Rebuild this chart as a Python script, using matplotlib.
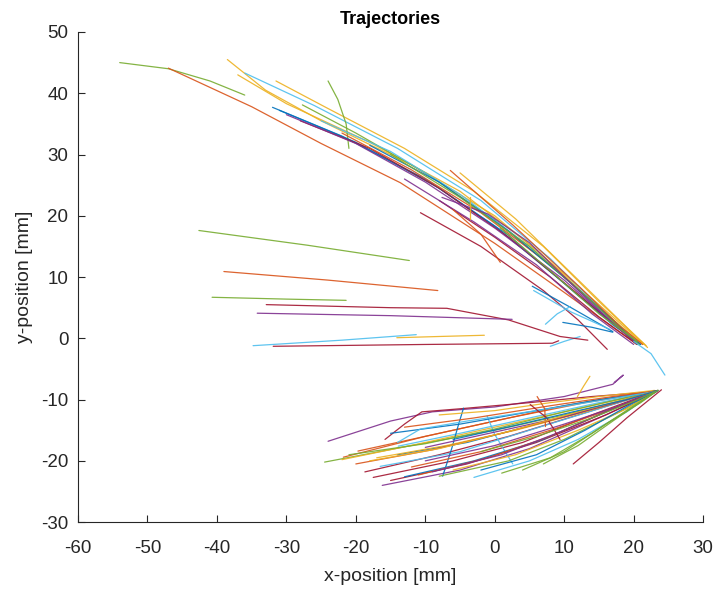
import matplotlib
matplotlib.use("Agg")
import matplotlib.pyplot as plt

plt.rcParams['font.family'] = ['Liberation Sans', 'DejaVu Sans']
plt.rcParams['axes.unicode_minus'] = False

# MATLAB default line colour order
palette = ['#0072BD', '#D95319', '#EDB120', '#7E2F8E', '#77AC30', '#4DBEEE', '#A2142F']

# Upper-left approach trajectories (x, y in mm)
upper_paths = [
    [(-54, 45), (-47, 44), (-41, 42), (-36, 39.7)],
    [(-47, 44.1), (-35, 37.8), (-25, 31.8), (-13.6, 25.4), (0, 15.5), (10, 7.5), (17, 1.8), (20.5, -1)],
    [(-38.5, 45.5), (-33, 40.5), (-25, 35.5), (-12, 28.3), (0, 20), (10, 10.5), (17, 3.5), (21.5, -1)],
    [(-37, 43), (-30, 38.3), (-18, 32), (-5, 24), (6, 14.5), (15, 5), (21.3, -1)],
    [(-36, 43.3), (-26, 38), (-14, 31), (-2, 22.5), (8, 13), (16, 4), (21, -1)],
    [(-31.5, 42), (-24, 37.5), (-13, 31), (-3, 24), (7, 15), (15, 6), (21.8, -1.2)],
    [(-24, 42), (-22.6, 39), (-21.4, 35), (-21, 31)],
    [(-32, 37.7), (-22, 33), (-10, 26), (0, 18.3), (10, 9), (17, 2.2), (21, -1)],
    [(-31, 37.2), (-20, 32), (-8, 24.5), (2, 16.8), (12, 7), (21, -1)],
    [(-27.7, 38.1), (-20, 33.5), (-10, 27), (0, 19.3), (11, 9), (17, 3), (20.8, -1)],
    [(-28, 35.5), (-18, 31), (-8, 24.5), (2, 16.5), (12, 7.2), (18, 1.5), (20.5, -1)],
    [(-30, 36.5), (-20, 31.8), (-10, 25.5), (0, 18), (10, 9.5), (17, 2.5), (20.5, -1)],
    [(-25, 35.5), (-15, 30.5), (-5, 23.5), (5, 15), (13, 7), (20.5, -1)],
    [(-22, 33.5), (-12, 27.5), (-2, 20.5), (8, 12), (16, 4), (20.5, -1)],
    [(-18, 31.5), (-8, 25.5), (2, 17.5), (11, 9), (17, 3), (20.5, -1)],
    [(-15, 30), (-5, 23), (5, 15), (14, 6), (20.5, -1)],
    [(-8, 22.5), (0, 16.5), (8, 10), (15, 3.5), (20.5, -1)],
    [(-13, 26), (-3, 19), (6, 12), (14, 4), (20, -1)],
    [(-7.6, 23), (-1, 20.3), (5, 15.6), (12.3, 7.5), (17, 2.5), (20, -0.4)],
    [(-6.4, 27.4), (2.6, 18.5), (12.3, 8.3), (18, 2), (21.3, -1)],
    [(-5, 27), (3, 19.5), (12.5, 9), (19, 1.8), (22, -1.5)],
    [(-10.7, 20.5), (-2, 15), (7, 7.8), (12, 3), (16.2, -1.8)],
    [(-3.5, 23), (-3.5, 19.5)],
    [(-6, 21), (-2, 17), (0.8, 12.4)],
    [(0.8, 18), (8, 11), (15, 4), (20.5, -0.5)],
    [(5.4, 8.5), (11, 5), (17, 1.1)],
    [(5.6, 7.8), (11, 4.3), (16.5, 1.5)],
    [(7.3, 2.3), (9, 4), (10.9, 5.2)],
    [(9.8, 2.6), (14, 1.8), (17, 1.0)],
    [(8, -1.3), (10, -0.5), (12.3, 0.3)],
    [(20, -0.5), (22.5, -2.5), (24.5, -6)],
]
upper_colors = [4, 1, 2, 2, 5, 2, 4, 0, 0, 4, 6, 3, 5, 1, 0, 4, 6, 3, 3, 1, 2, 6, 2, 1, 4, 0, 5, 5, 0, 5, 5]

# Near-horizontal trajectories from the left
side_paths = [
    [(-42.6, 17.6), (-27, 15.2), (-12.3, 12.7)],
    [(-39, 10.9), (-24, 9.5), (-8.2, 7.8)],
    [(-40.7, 6.7), (-30, 6.4), (-21.4, 6.2)],
    [(-32.9, 5.5), (-15, 5.0), (-6.9, 4.9), (2, 3.0), (9.4, 0.3), (13.4, -0.3)],
    [(-34.2, 4.1), (-15, 3.7), (2.5, 3.1)],
    [(-34.8, -1.2), (-22, -0.3), (-11.3, 0.6)],
    [(-14.1, 0.1), (-8, 0.3), (-1.5, 0.5)],
    [(-31.9, -1.3), (-10, -1.0), (8.3, -0.8), (9.2, -0.4)],
]
side_colors = [4, 1, 4, 6, 3, 5, 2, 6]

# Lower approach trajectories converging near (23.5, -8.5)
lower_paths = [
    [(-24, -16.8), (-15, -13.5), (-9, -12), (0, -11.2), (10, -9.5), (17, -7.5), (18.5, -6), (17.2, -7.2)],
    [(-15.8, -16.5), (-13, -14), (-10.5, -12), (-5, -11.5), (5, -10.5), (14, -9.5), (22, -8.8)],
    [(-21.8, -19.4), (-10, -16), (0, -13.5), (10, -11), (18, -9.5), (23.5, -8.5)],
    [(-24.5, -20.2), (-12, -17.5), (0, -15), (10, -12.5), (17, -10.5), (23.5, -8.5)],
    [(-22, -19.8), (-10, -17), (0, -14.5), (12, -11.5), (23, -8.7)],
    [(-19.7, -18.4), (-8, -15.5), (2, -13), (13, -10.5), (23, -8.7)],
    [(-18.7, -21.8), (-8, -19), (2, -16), (12, -12.5), (23, -8.7)],
    [(-16.5, -20.9), (-5, -18.5), (5, -15), (15, -11.5), (23, -8.7)],
    [(-17.5, -22.7), (-6, -20), (4, -17), (14, -12.5), (23, -8.7)],
    [(-16.2, -24), (-5, -21.5), (5, -18), (15, -13), (23.3, -8.7)],
    [(-13.9, -17.6), (-5, -15.5), (5, -13), (15, -10.5), (23, -8.7)],
    [(-4.5, -11.4), (-5.2, -14), (-6.2, -18), (-7.5, -22.5)],
    [(-1.1, -12.7), (0, -15.7), (1.5, -18.5), (2.6, -20.5)],
    [(-8, -12.5), (0, -11.8), (8, -10.5), (15, -9.5), (23, -8.5)],
    [(-21, -19), (-10, -17.2), (0, -14.8), (10, -12), (23, -8.6)],
    [(-14, -19), (-4, -17), (6, -14), (16, -11), (23, -8.6)],
    [(-12, -21), (-2, -18.5), (8, -15), (17, -11.5), (23.3, -8.6)],
    [(-10, -20), (0, -17.5), (10, -14), (18, -11), (23.3, -8.6)],
    [(-8, -22.5), (2, -20), (10, -16.5), (18, -12), (23.3, -8.6)],
    [(-6, -21.5), (3, -19), (12, -15), (19, -11.5), (23.3, -8.6)],
    [(-3, -22.7), (5, -20), (12, -16.5), (19, -12), (23.3, -8.6)],
    [(4, -21.5), (10, -18.5), (16, -14), (21, -10.5), (23.5, -8.5)],
    [(7, -20.5), (12, -17.5), (17, -13.5), (23.3, -8.6)],
    [(11.3, -20.5), (15, -17), (19, -13), (22.7, -9.6), (24, -8.4)],
    [(-15, -15.5), (-5, -14), (5, -12), (15, -10), (23, -8.7)],
    [(-13, -14.5), (-3, -13), (8, -11), (17, -9.5), (23.3, -8.6)],
    [(-14, -17), (-10.7, -14.8), (-4, -13.5), (6, -11.8), (16, -10), (23, -8.7)],
    [(-15, -23.2), (-4, -20.5), (6, -17), (16, -12.5), (23.3, -8.6)],
    [(-13, -22.6), (-3, -20), (7, -16.5), (16, -12), (23.3, -8.6)],
    [(-11, -22.3), (-1, -19.5), (8, -16), (17, -11.5), (23.3, -8.6)],
    [(-9, -21.8), (1, -19), (10, -15), (18, -11), (23.3, -8.6)],
    [(-17, -19.5), (-7, -17.5), (3, -15), (13, -12), (23, -8.7)],
    [(-20, -20.5), (-9, -18.2), (1, -15.5), (11, -12.5), (23, -8.7)],
    [(13.7, -6.2), (12.8, -7.8), (11.9, -9.5)],
    [(6.1, -9.5), (7.2, -11.5), (7.3, -14.4)],
    [(5.1, -10.8), (7.5, -13), (9.4, -16.5)],
    [(-2, -21.5), (6, -19), (13, -15), (20, -10.5), (23.5, -8.5)],
    [(1, -22), (8, -19.5), (14, -15.5), (20, -11), (23.5, -8.5)],
    [(-10, -17.8), (0, -15.3), (10, -12.8), (18, -10.3), (23.3, -8.6)],
    [(-18, -20), (-8, -18), (2, -15.2), (12, -12), (23, -8.7)],
    [(-6, -16.5), (3, -14.2), (12, -11.8), (19, -10), (23.3, -8.6)],
    [(-2, -18.5), (6, -16), (14, -13), (20, -10.3), (23.3, -8.6)],
]
lower_colors = [3, 6, 1, 4, 2, 1, 6, 5, 6, 3, 5, 0, 5, 2, 4, 0, 1, 3, 4, 2, 5,
                4, 4, 6, 0, 1, 5, 6, 0, 1, 3, 2, 1, 2, 1, 6, 0, 4, 3, 2, 0, 4]

x_ticks = [-60, -50, -40, -30, -20, -10, 0, 10, 20, 30]
y_ticks = [-30, -20, -10, 0, 10, 20, 30, 40, 50]

fig = plt.figure(figsize=(7.16, 5.92), dpi=100)
ax = fig.add_axes([0.109, 0.118, 0.873, 0.828])

for paths, cols in ((upper_paths, upper_colors), (side_paths, side_colors), (lower_paths, lower_colors)):
    for pts, c in zip(paths, cols):
        xs = [p[0] for p in pts]
        ys = [p[1] for p in pts]
        ax.plot(xs, ys, color=palette[c], lw=0.9, alpha=0.9, solid_capstyle='round')

ax.set_xlim(-60, 30)
ax.set_ylim(-30, 50)
ax.set_xticks(x_ticks)
ax.set_yticks(y_ticks)

axis_color = '#262626'
for side in ('top', 'right'):
    ax.spines[side].set_visible(False)
for side in ('left', 'bottom'):
    ax.spines[side].set_color(axis_color)
    ax.spines[side].set_linewidth(0.8)
ax.tick_params(direction='in', length=5, width=0.8, colors=axis_color, labelsize=13.5)
ax.tick_params(axis='x', pad=13)
ax.tick_params(axis='y', pad=7)

ax.set_xlabel('x-position [mm]', fontsize=14, color=axis_color, labelpad=8)
ax.set_ylabel('y-position [mm]', fontsize=14, color=axis_color, labelpad=6)
ax.set_title('Trajectories', fontsize=13, fontweight='bold', color='black', pad=6)

fig.savefig('out.png', dpi=100)
